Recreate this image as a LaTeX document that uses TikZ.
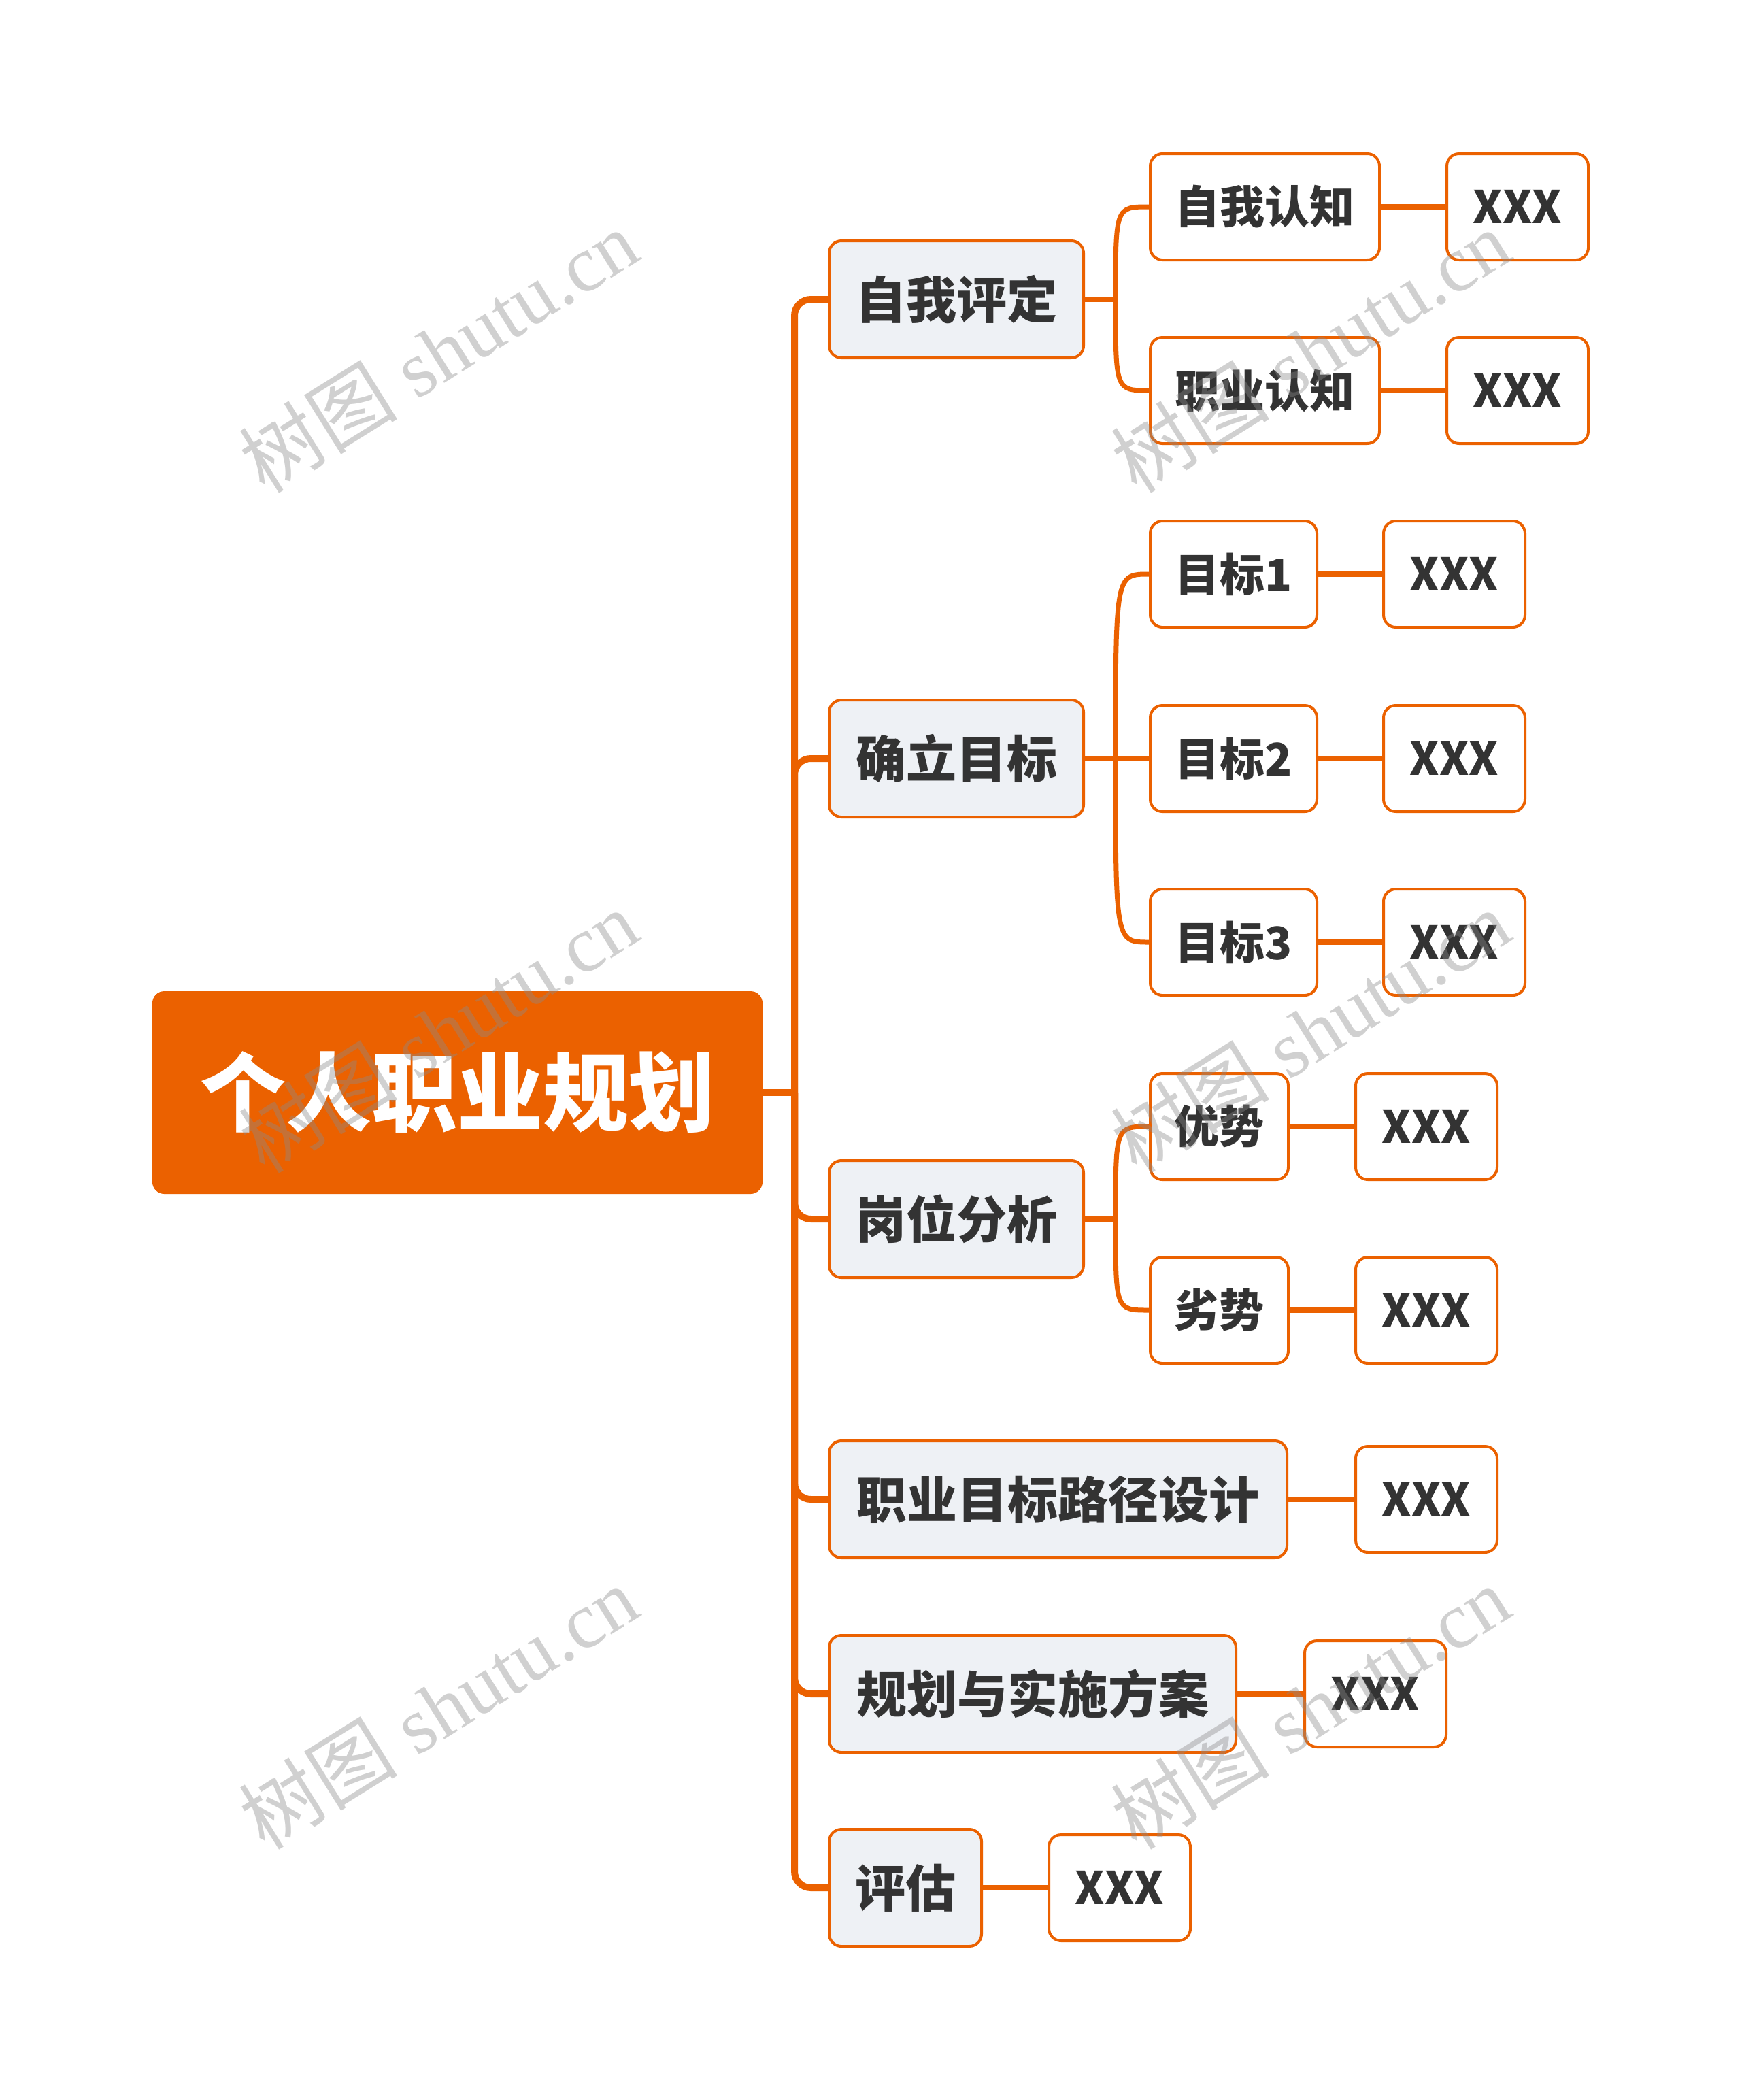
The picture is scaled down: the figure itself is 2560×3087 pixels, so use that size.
\documentclass[tikz,border=0pt]{standalone}
\usepackage{fontspec}
\newfontfamily\cjk{Noto Sans CJK SC}
\newfontfamily\wmfont{Noto Sans CJK SC}
\setmainfont{Liberation Serif}
\definecolor{brand}{HTML}{EB6100}
\definecolor{lvfill}{HTML}{EEF1F5}
\definecolor{txt}{HTML}{333333}
\definecolor{wm}{HTML}{8A8A8A}
\tikzset{
  rootbox/.style={fill=brand, draw=brand, line width=3pt, rounded corners=16pt, text=white,
    font=\cjk\bfseries\fontsize{126}{130}\selectfont, minimum height=295pt, minimum width=894pt,
    inner sep=0pt, anchor=west},
  onebox/.style={fill=lvfill, draw=brand, line width=4pt, rounded corners=18pt, text=txt,
    font=\cjk\bfseries\fontsize{74}{80}\selectfont, minimum height=172pt, inner sep=0pt, anchor=west},
  twobox/.style={fill=white, draw=brand, line width=4pt, rounded corners=18pt, text=txt,
    font=\cjk\bfseries\fontsize{66}{72}\selectfont, minimum height=156pt, inner sep=0pt, anchor=west},
  conn/.style={draw=brand, line width=10pt},
  subconn/.style={draw=brand, line width=8pt},
  curveconn/.style={draw=brand, line width=7pt},
  wmark/.style={text=wm, opacity=0.4, rotate=32, font=\fontsize{117}{120}\selectfont},
}
\begin{document}
\begin{tikzpicture}[x=1pt, y=-1pt]
\useasboundingbox (0,0) rectangle (2560,3087);
\fill[white] (0,0) rectangle (2560,3087);

% connectors first (under the boxes)
\coordinate (tr) at (1168,1606);
\coordinate (ja) at (1640,440);
\coordinate (jb) at (1640,1115);
\coordinate (jc) at (1640,1792);

% root
\node[rootbox] (root) at (224,1606) {个人职业规划};

% level 1
\node[onebox, minimum width=374pt] (a) at (1217,440) {自我评定};
\node[onebox, minimum width=374pt] (b) at (1217,1115) {确立目标};
\node[onebox, minimum width=374pt] (c) at (1217,1792) {岗位分析};
\node[onebox, minimum width=673pt] (d) at (1217,2204) {职业目标路径设计};
\node[onebox, minimum width=598pt] (e) at (1217,2490) {规划与实施方案};
\node[onebox, minimum width=224pt] (f) at (1217,2775) {评估};

% level 2
\node[twobox, minimum width=337pt] (a1) at (1689,304) {自我认知};
\node[twobox, minimum width=337pt] (a2) at (1689,574) {职业认知};
\node[twobox, minimum width=245pt] (b1) at (1689,844) {目标1};
\node[twobox, minimum width=245pt] (b2) at (1689,1115) {目标2};
\node[twobox, minimum width=245pt] (b3) at (1689,1385) {目标3};
\node[twobox, minimum width=203pt] (c1) at (1689,1656) {优势};
\node[twobox, minimum width=203pt] (c2) at (1689,1926) {劣势};

% level 3 (XXX)
\node[twobox, minimum width=208pt] (a1x) at (2125,304) {XXX};
\node[twobox, minimum width=208pt] (a2x) at (2125,574) {XXX};
\node[twobox, minimum width=208pt] (b1x) at (2032,844) {XXX};
\node[twobox, minimum width=208pt] (b2x) at (2032,1115) {XXX};
\node[twobox, minimum width=208pt] (b3x) at (2032,1385) {XXX};
\node[twobox, minimum width=208pt] (c1x) at (1991,1656) {XXX};
\node[twobox, minimum width=208pt] (c2x) at (1991,1926) {XXX};
\node[twobox, minimum width=208pt] (dx) at (1991,2204) {XXX};
\node[twobox, minimum width=208pt] (ex) at (1916,2490) {XXX};
\node[twobox, minimum width=208pt] (fx) at (1540,2775) {XXX};

% trunk connectors
\draw[conn] (root.east) -- (tr);
\foreach \n in {a,b,c,d,e,f}{
  \draw[conn, rounded corners=24pt] (tr) |- (\n.west);
}

% level-2 connectors
\draw[subconn] (a.east) -- (ja);
\draw[subconn] (b.east) -- (jb);
\draw[subconn] (c.east) -- (jc);
\foreach \j/\k in {ja/a1, ja/a2, jb/b1, jb/b3, jc/c1, jc/c2}{
  \draw[curveconn] (\j) .. controls (\j |- \k.west) .. (\k.west);
}
\draw[subconn] (jb) -- (b2.west);

% level-3 connectors
\foreach \p/\q in {a1/a1x, a2/a2x, b1/b1x, b2/b2x, b3/b3x, c1/c1x, c2/c2x, d/dx, e/ex, f/fx}{
  \draw[subconn] (\p.east) -- (\q.west);
}

% watermarks
\foreach \wx/\wy in {644/516, 1926/516, 644/1516, 1926/1516, 644/2510, 1926/2510}{
  \node[wmark] (wm-\wx-\wy) at (\wx,\wy) {{\wmfont 树图} shutu.cn};
}
\end{tikzpicture}
\end{document}
